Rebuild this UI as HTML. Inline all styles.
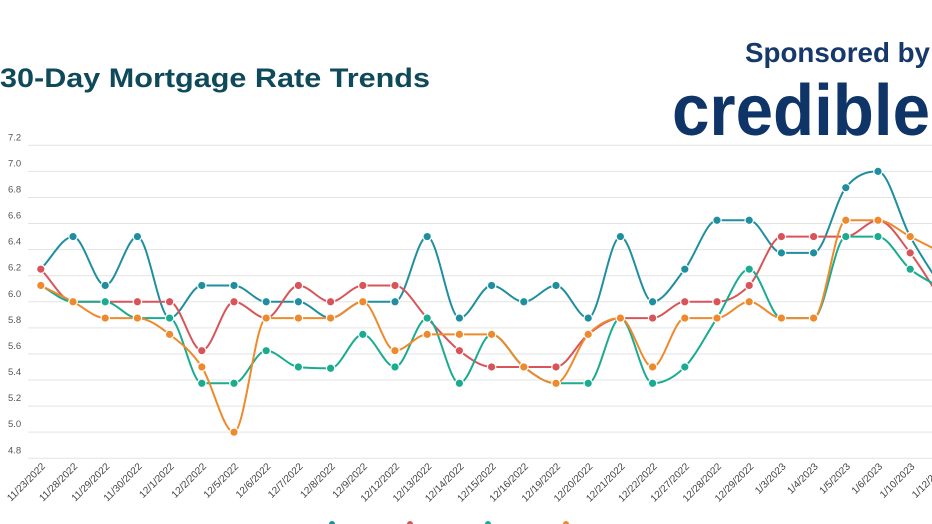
<!DOCTYPE html>
<html><head><meta charset="utf-8"><style>
html,body{margin:0;padding:0;background:#fff;width:932px;height:524px;overflow:hidden}
svg{display:block}
</style></head><body>
<svg id="s" width="932" height="524" xmlns="http://www.w3.org/2000/svg" font-family="Liberation Sans, sans-serif">
<text x="0" y="87" font-size="27" font-weight="bold" fill="#0f4a5a" textLength="430" lengthAdjust="spacingAndGlyphs">30-Day Mortgage Rate Trends</text>
<text x="930" y="62" font-size="28" font-weight="bold" fill="#16386a" text-anchor="end" textLength="185" lengthAdjust="spacingAndGlyphs">Sponsored by</text>
<text x="672" y="135" font-size="72" font-weight="bold" fill="#0f3468" textLength="258" lengthAdjust="spacingAndGlyphs">credible</text>
<g id="g"></g>
</svg>
<script>
var ns="http://www.w3.org/2000/svg",g=document.getElementById('g');
function el(t,a,txt){var e=document.createElementNS(ns,t);for(var k in a)e.setAttribute(k,a[k]);if(txt)e.textContent=txt;g.appendChild(e);return e;}
function Y(v){return 145.3+(7.2-v)*130.4;}
function X(i){return 40.8+i*32.2;}
for(var v=7.2;v>4.75;v-=0.2){var y=Y(v);el('line',{x1:28,x2:932,y1:y,y2:y,stroke:'#e3e3e3','stroke-width':1});el('text',{x:8,y:y-5,'font-size':9.5,fill:'#555'},v.toFixed(1));}
var d=["11/23/2022","11/28/2022","11/29/2022","11/30/2022","12/1/2022","12/2/2022","12/5/2022","12/6/2022","12/7/2022","12/8/2022","12/9/2022","12/12/2022","12/13/2022","12/14/2022","12/15/2022","12/16/2022","12/19/2022","12/20/2022","12/21/2022","12/22/2022","12/27/2022","12/28/2022","12/29/2022","1/3/2023","1/4/2023","1/5/2023","1/6/2023","1/10/2023","1/12/2023"];
d.forEach(function(t,i){var x=X(i)+5,y=467;el('text',{x:x,y:y,'font-size':10,fill:'#444','text-anchor':'end',transform:'rotate(-45 '+x+' '+y+')'},t);});
var S=[
['#1f8fa0',[6.25,6.5,6.125,6.5,5.875,6.125,6.125,6.0,6.0,5.875,6.0,6.0,6.5,5.875,6.125,6.0,6.125,5.875,6.5,6.0,6.25,6.625,6.625,6.375,6.375,6.875,7.0,6.5,6.1]],
['#d95459',[6.25,6.0,6.0,6.0,6.0,5.625,6.0,5.875,6.125,6.0,6.125,6.125,5.875,5.625,5.5,5.5,5.5,5.75,5.875,5.875,6.0,6.0,6.125,6.5,6.5,6.5,6.625,6.375,6.0]],
['#1aab90',[6.125,6.0,6.0,5.875,5.875,5.375,5.375,5.625,5.5,5.49,5.75,5.5,5.875,5.375,5.75,5.5,5.375,5.375,5.875,5.375,5.5,5.875,6.25,5.875,5.875,6.5,6.5,6.25,6.1]],
['#ee8a2c',[6.125,6.0,5.875,5.875,5.75,5.5,5.0,5.875,5.875,5.875,6.0,5.625,5.75,5.75,5.75,5.5,5.375,5.75,5.875,5.5,5.875,5.875,6.0,5.875,5.875,6.625,6.625,6.5,6.375]]];
function mono(p){var n=p.length,h=p[1][0]-p[0][0],s=[],m=[];
for(var i=0;i<n-1;i++)s.push((p[i+1][1]-p[i][1])/h);
for(var i=0;i<n;i++){if(i==0)m.push(s[0]);else if(i==n-1)m.push(s[n-2]);else{var a=s[i-1],b=s[i];m.push(a*b<=0?0:(a+b)/2);
var mx=3*Math.min(Math.abs(a),Math.abs(b));if(Math.abs(m[i])>mx)m[i]=Math.sign(m[i])*mx;}}
var str='M'+p[0][0]+','+p[0][1];
for(var i=0;i<n-1;i++){str+=' C'+(p[i][0]+h/3)+','+(p[i][1]+m[i]*h/3)+' '+(p[i+1][0]-h/3)+','+(p[i+1][1]-m[i+1]*h/3)+' '+p[i+1][0]+','+p[i+1][1];}
return str;}
S.forEach(function(s){var p=s[1].map(function(v,i){return [X(i),Y(v)];});
el('path',{d:mono(p),fill:'none',stroke:s[0],'stroke-width':2});
p.forEach(function(q){el('circle',{cx:q[0],cy:q[1],r:4.2,fill:s[0],stroke:'#fff','stroke-width':1.2});});});
[[332,'#1f8fa0'],[410,'#d95459'],[488,'#1aab90'],[566,'#ee8a2c']].forEach(function(q){el('circle',{cx:q[0],cy:524,r:3,fill:q[1]});});
</script>
</body></html>
